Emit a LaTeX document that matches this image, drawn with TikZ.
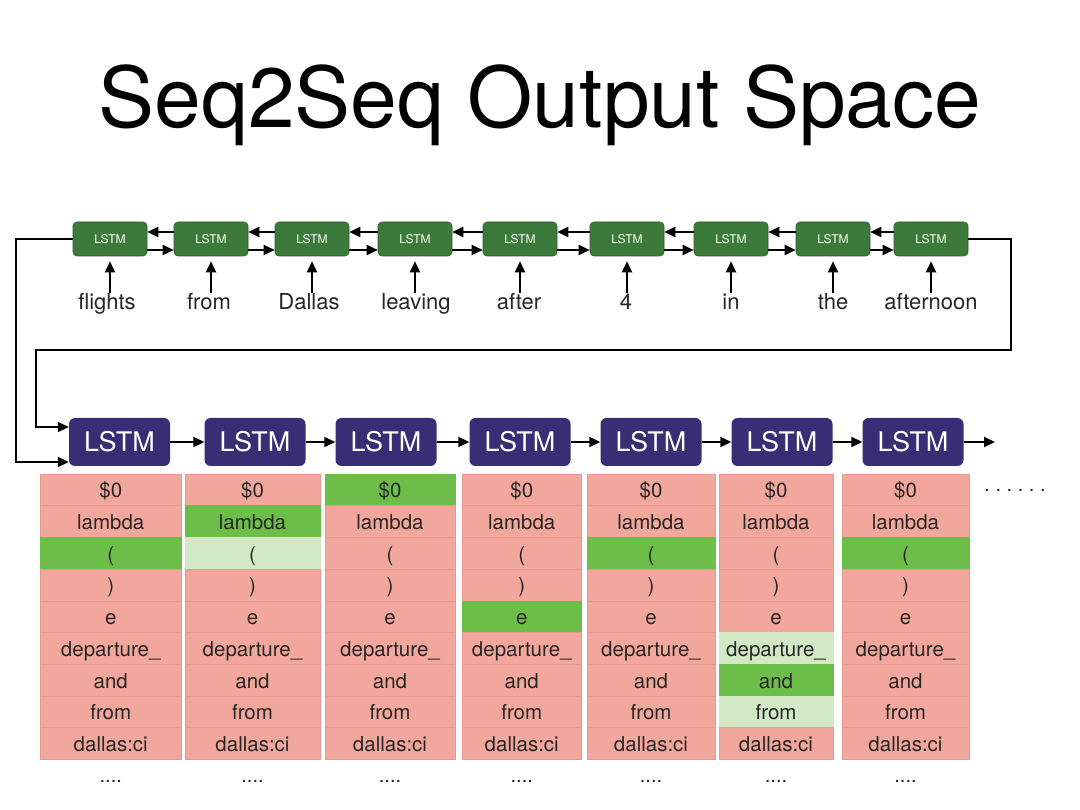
\documentclass[tikz,border=0pt]{standalone}
\usepackage{fontspec}
\setmainfont{TeX Gyre Heros}
\usetikzlibrary{arrows.meta}
\definecolor{encgreen}{RGB}{59,122,59}
\definecolor{encborder}{RGB}{44,92,44}
\definecolor{decpurple}{RGB}{57,45,118}
\definecolor{cellpink}{RGB}{242,167,156}
\definecolor{cellline}{RGB}{232,152,142}
\definecolor{hitgreen}{RGB}{108,190,72}
\definecolor{neargreen}{RGB}{211,233,198}
\definecolor{inktext}{RGB}{38,38,38}

\tikzset{
  hl1-3/.style={hit}, hl2-2/.style={hit}, hl2-3/.style={near},
  hl3-1/.style={hit}, hl4-5/.style={hit}, hl5-3/.style={hit},
  hl6-6/.style={near}, hl6-7/.style={hit}, hl6-8/.style={near},
  hl7-3/.style={hit}
}

\begin{document}
\begin{tikzpicture}[x=1pt,y=-1pt,
  enclstm/.style={draw=encborder, line width=0.6pt, fill=encgreen, rounded corners=4pt,
    minimum width=74pt, minimum height=34pt, inner sep=0pt, text=white,
    font=\fontsize{12}{14}\selectfont},
  declstm/.style={fill=decpurple, rounded corners=6pt, minimum width=101pt,
    minimum height=48pt, inner sep=0pt, text=white, font=\fontsize{27}{30}\selectfont},
  word/.style={anchor=base, inner sep=2pt, text height=15pt, text depth=5pt,
    text=inktext, font=\fontsize{22}{24}\selectfont},
  cell/.style={fill=cellpink, draw=cellline, line width=0.5pt, minimum height=31.7pt,
    inner sep=0pt, text height=20pt, text depth=4pt, text=inktext,
    font=\fontsize{20.5}{22}\selectfont},
  hit/.style={fill=hitgreen, draw=hitgreen},
  near/.style={fill=neargreen, draw=neargreen},
  moredots/.style={inner sep=0pt, text=inktext, font=\fontsize{20}{22}\selectfont},
  link/.style={line width=2pt, -{Triangle[length=11pt,width=10pt]}}
]
\path[fill=white, use as bounding box] (0,0) rectangle (1080,810);

% Title
\node[anchor=base, inner sep=0pt, font=\fontsize{84}{90}\selectfont] (title) at (540,128) {Seq2Seq Output Space};

% Encoder
\foreach \x [count=\i] in {110,211,312,415,520,627,731,833,931}
  \node[enclstm] (enc\i) at (\x,239) {LSTM};
\foreach \x/\t [count=\i] in {107/flights, 209/from, 309/Dallas, 416/leaving, 519/after,
    626/4, 731/in, 833/the, 931/afternoon}
  \node[word] (w\i) at (\x,310) {\t};
\foreach \i in {1,...,9}
  \draw[link, shorten >=5pt] (enc\i.south |- w\i.north) -- (enc\i.south);
\foreach \i in {1,...,8} {
  \pgfmathtruncatemacro\j{\i+1}
  \draw[link] ([yshift=7pt]enc\j.west) -- ([yshift=7pt]enc\i.east);
  \draw[link] ([yshift=-11pt]enc\i.east) -- ([yshift=-11pt]enc\j.west);
}

% Decoder
\foreach \x [count=\i] in {119.5,255,386,520,651,782,913}
  \node[declstm] (dec\i) at (\x,442) {LSTM};
\foreach \i in {1,...,6} {
  \pgfmathtruncatemacro\j{\i+1}
  \draw[link] (dec\i) -- (dec\j);
}
\coordinate (decnext) at (995,442);
\draw[link] (dec7) -- (decnext);

% Encoder states into the decoder
\coordinate (turn) at (36,350);
\draw[link] (enc1.west) -- ++(-57,0) |- ([yshift=-20pt]dec1.west);
\draw[link] (enc9.east) -- ++(43,0) |- (turn) |- ([yshift=15pt]dec1.west);

% Output vocabulary per step
\foreach \col/\cx/\cw in {1/110.75/141.5, 2/252.5/135, 3/390/130, 4/521.75/118.5,
    5/651/128, 6/776/114, 7/905.5/127} {
  \foreach \tok [count=\rw] in {\$0, lambda, {(}, {)}, e, departure\_, and, from, dallas:ci}
    \node[cell, minimum width=\cw pt, hl\col-\rw/.try] (c\col-\rw) at (\cx,{474+31.7*\rw-15.85}) {\tok};
  \node[moredots] (dots\col) at (\cx,781) {....};
}
\node[moredots] (morecols) at (1015,490) {.\ .\ .\ .\ .\ .};
\end{tikzpicture}
\end{document}
